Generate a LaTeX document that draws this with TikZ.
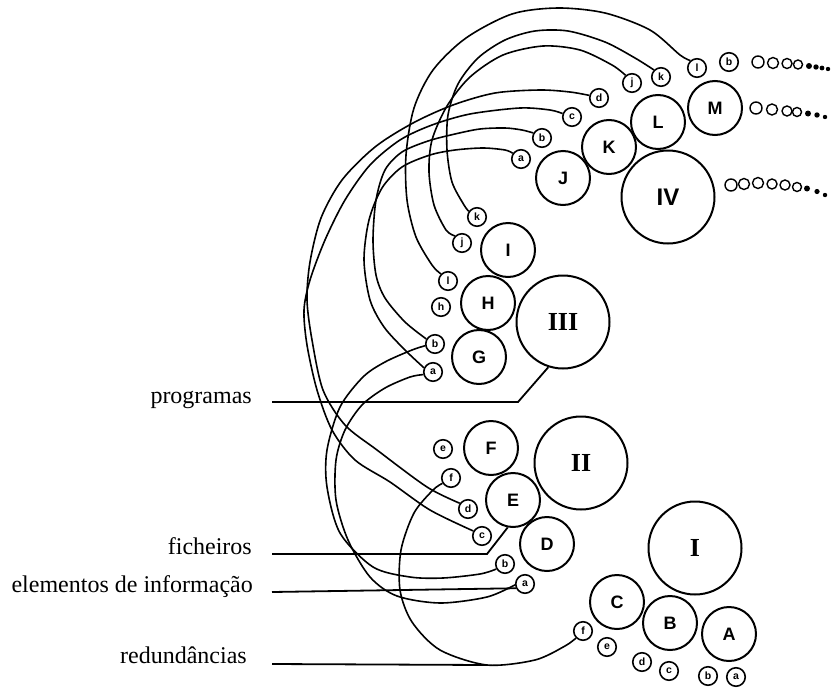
\documentclass[tikz,border=0pt]{standalone}
\usepackage{fontspec}
\setmainfont{Liberation Serif}
\setsansfont{Liberation Sans}
\begin{document}
\begin{tikzpicture}[x=1pt,y=-1pt,
  filec/.style={circle,draw,line width=2pt,minimum size=54pt,inner sep=0pt,font=\sffamily\bfseries\fontsize{18}{18}\selectfont},
  progc/.style={circle,draw,line width=2pt,minimum size=93pt,inner sep=0pt,font=\rmfamily\bfseries\fontsize{26}{26}\selectfont},
  elc/.style={circle,draw,line width=1.6pt,minimum size=18.5pt,inner sep=0pt,font=\sffamily\bfseries\fontsize{10.5}{10.5}\selectfont},
  link/.style={line width=1.6pt},
  labl/.style={anchor=mid east,inner sep=0pt,font=\fontsize{24}{24}\selectfont},
  lline/.style={line width=1.8pt},
  chain/.style={line width=1.4pt},
]
\useasboundingbox (0,0) rectangle (832,688);

% ---------- group IV ----------
\node[progc,font=\sffamily\bfseries\fontsize{24}{24}\selectfont] (pIV) at (668,197) {IV};
\node[filec] (fJ) at (563,178) {J};
\node[filec] (fK) at (609,147) {K};
\node[filec] (fL) at (658,122) {L};
\node[filec] (fM) at (715,108) {M};
\node[elc] (ta) at (521,159) {a};
\node[elc] (tb) at (542,138) {b};
\node[elc] (tc) at (572,117) {c};
\node[elc] (td) at (599,98) {d};
\node[elc] (tj) at (632,83) {j};
\node[elc] (tk) at (661,77) {k};
\node[elc] (tl) at (697,68) {l};
\node[elc] (tm) at (729,62) {b};

% ---------- group III ----------
\node[progc] (pIII) at (563,322) {III};
\node[filec] (fI) at (508,250) {I};
\node[filec] (fH) at (488,303) {H};
\node[filec] (fG) at (479,357) {G};
\node[elc] (sk) at (477,217) {k};
\node[elc] (sj) at (462,243) {j};
\node[elc] (sl) at (448,281) {l};
\node[elc] (sh) at (441,307) {h};
\node[elc] (sb) at (435,344) {b};
\node[elc] (sa) at (433,372) {a};

% ---------- group II ----------
\node[progc] (pII) at (581,463) {II};
\node[filec] (fF) at (491,448) {F};
\node[filec] (fE) at (513,500) {E};
\node[filec] (fD) at (547,544) {D};
\node[elc] (ue) at (443,449) {e};
\node[elc] (uf) at (451,478) {f};
\node[elc] (ud) at (468,509) {d};
\node[elc] (uc) at (482,536) {c};
\node[elc] (ub) at (505,564) {b};
\node[elc] (ua) at (525,584) {a};

% ---------- group I ----------
\node[progc] (pI) at (695,548) {I};
\node[filec] (fC) at (617,602) {C};
\node[filec] (fB) at (670,623) {B};
\node[filec] (fA) at (729,634) {A};
\node[elc] (vf) at (583,631) {f};
\node[elc] (ve) at (607,647) {e};
\node[elc] (vd) at (642,662) {d};
\node[elc] (vc) at (669,671) {c};
\node[elc] (vb) at (708,676) {b};
\node[elc] (va) at (736,677) {a};

% ---------- trailing chains ----------
\foreach \x/\y/\r in {758/62/6,773/63/5.5,787/63.5/5,798/64.5/4.5}
  \draw[chain] (\x,\y) circle[radius=\r pt];
\foreach \x/\y/\r in {809/66/3,816/67/2.7,822/68/2.4,828/69/2.2}
  \fill (\x,\y) circle[radius=\r pt];
\foreach \x/\y/\r in {756/108/6,772/109.5/5.5,787/111/5,797/112/4.5}
  \draw[chain] (\x,\y) circle[radius=\r pt];
\foreach \x/\y/\r in {808/113.5/3,817/115/2.7,825/117/2.2}
  \fill (\x,\y) circle[radius=\r pt];
\foreach \x/\y/\r in {731/185/6,744/184/5.5,758/183/5.5,772/184/5,785/185/5,797/187/4.5}
  \draw[chain] (\x,\y) circle[radius=\r pt];
\foreach \x/\y/\r in {807/188.5/3,817/191.5/2.6,825/195/2.2}
  \fill (\x,\y) circle[radius=\r pt];

% ---------- redundancy connectors ----------
\draw[link] plot[smooth] coordinates {(tl.132) (680,55) (650,30) (605,13) (558,8) (512,14) (466,38) (433,70) (414,108) (406,155) (407,200) (416,237) (432,265) (sl.135)};
\draw[link] plot[smooth] coordinates {(tk.135) (635,58) (605,42) (568,31) (535,31) (505,40) (478,58) (458,84) (448,115) (447,150) (452,182) (464,205) (sk.145)};
\draw[link] plot[smooth] coordinates {(tj.130) (612,65) (580,50) (543,46) (503,55) (470,77) (447,106) (432,140) (429,172) (434,205) (446,230) (sj.135)};
\draw[link] plot[smooth] coordinates {(td.165) (570,92) (540,90) (495,93) (453,105) (413,123) (375,147) (342,180) (321,218) (310,262) (307,300) (312,340) (323,390) (345,425) (377,450) (427,487) (ud.145)};
\draw[link] plot[smooth] coordinates {(tc.160) (550,110) (520,108) (470,114) (432,125) (400,140) (370,165) (345,200) (325,240) (310,280) (304,310) (307,345) (317,390) (332,430) (355,460) (390,482) (430,510) (uc.150)};
\draw[link] plot[smooth] coordinates {(ta.145) (505,150) (483,148) (455,150) (430,155) (402,167) (382,188) (369,220) (364,260) (370,300) (384,327) (405,350) (sa.155)};
\draw[link] plot[smooth] coordinates {(tb.150) (522,130) (505,128) (480,129) (455,134) (428,141) (402,152) (385,170) (376,200) (373,240) (376,275) (385,298) (405,322) (sb.150)};
\draw[link] plot[smooth] coordinates {(sb.190) (412,350) (385,362) (363,377) (340,407) (327,450) (327,487) (340,533) (373,567) (410,577) (443,578) (480,574) (ub.210)};
\draw[link] plot[smooth] coordinates {(sa.195) (410,377) (385,388) (362,405) (345,430) (336,460) (336,500) (348,540) (370,577) (397,596) (440,603) (487,597) (ua.185)};
\coordinate (rd) at (487,665);
\draw[link] plot[smooth] coordinates {(uf.212) (433,490) (414,513) (401,550) (400,590) (412,622) (440,650) (rd) (535,660) (565,646) (vf.225)};

% ---------- labels ----------
\node[labl] (lprog) at (252,401) {programas};
\node[labl] (lfich) at (252,552) {ficheiros};
\node[labl] (lelem) at (253,590) {elementos de informação};
\node[labl] (lred) at (247,661) {redundâncias};
\coordinate (cprog) at (272,402);
\coordinate (cfich) at (272,554);
\coordinate (celem) at (272,592);
\coordinate (cred) at (272,664);
\draw[lline] (cprog) -- (518,402) -- (pIII.252);
\draw[lline] (cfich) -- (487,554) -- (fE.259);
\draw[lline] (celem) -- (ua.205);
\draw[lline] (cred) -- (rd);
\end{tikzpicture}
\end{document}
